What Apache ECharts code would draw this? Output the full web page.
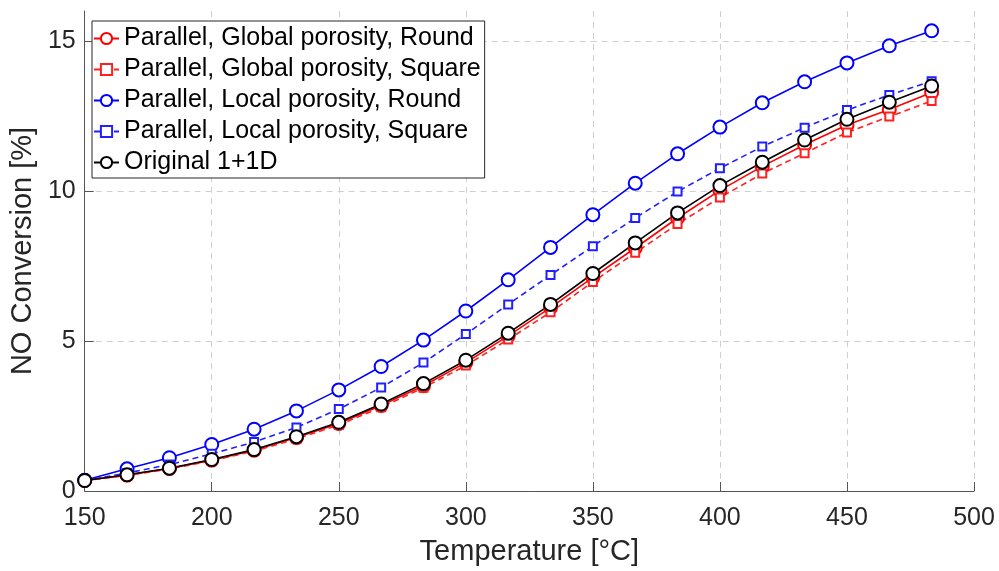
<!DOCTYPE html>
<html>
<head>
<meta charset="utf-8">
<script src="https://cdn.jsdelivr.net/npm/echarts@6/dist/echarts.min.js"></script>
<style>
html,body{margin:0;padding:0;background:#fff;}
#chart{width:999px;height:571px;}
</style>
</head>
<body>
<div id="chart"></div>
<script>
var temperature = [150,166.67,183.33,200,216.67,233.33,250,266.67,283.33,300,316.67,333.33,350,366.67,383.33,400,416.67,433.33,450,466.67,483.33];
var globalRound  = [0.35,0.53,0.75,1.03,1.36,1.78,2.25,2.85,3.51,4.28,5.17,6.11,7.12,8.10,9.10,10.02,10.82,11.54,12.20,12.72,13.28];
var globalSquare = [0.34,0.52,0.73,1.01,1.33,1.74,2.20,2.79,3.44,4.18,5.05,5.96,6.97,7.94,8.90,9.78,10.58,11.26,11.95,12.48,13.00];
var localRound   = [0.36,0.74,1.11,1.55,2.06,2.67,3.37,4.15,5.03,6.00,7.04,8.12,9.21,10.26,11.24,12.13,12.94,13.64,14.27,14.84,15.34];
var localSquare  = [0.35,0.60,0.88,1.24,1.63,2.12,2.73,3.45,4.28,5.23,6.22,7.20,8.16,9.10,9.98,10.76,11.48,12.11,12.70,13.20,13.66];
var original     = [0.35,0.54,0.76,1.05,1.38,1.81,2.29,2.90,3.58,4.36,5.26,6.22,7.25,8.27,9.27,10.18,10.96,11.70,12.39,12.96,13.50];
var xTicks = [150,200,250,300,350,400,450,500];
var yTicks = [0,5,10,15];
var seriesNames = ['Parallel, Global porosity, Round','Parallel, Global porosity, Square','Parallel, Local porosity, Round','Parallel, Local porosity, Square','Original 1+1D'];

function pairs(ys){ return temperature.map(function(t,i){ return [t, ys[i]]; }); }

var FONT = '"Liberation Sans", Arial, sans-serif';
var TXT = '#262626';

function mk(name, data, color, dashed, square){
  return {
    name: name, type: 'line', data: pairs(data),
    symbol: square ? 'emptyRect' : 'emptyCircle',
    symbolSize: square ? 8 : 13,
    showAllSymbol: true,
    lineStyle: { color: color, width: 1.6, type: dashed ? [6,4] : 'solid' },
    itemStyle: { color: color, borderWidth: 1.3 },
    emphasis: { disabled: true },
    animation: false
  };
}

var chart = echarts.init(document.getElementById('chart'), null, {renderer:'canvas'});
chart.setOption({
  animation: false,
  backgroundColor: '#fff',
  grid: { left: 82, right: 25, top: 11, bottom: 79 },
  xAxis: {
    type: 'value', min: 150, max: 500, interval: 50,
    name: 'Temperature [°C]', nameLocation: 'middle', nameGap: 46,
    nameTextStyle: { fontFamily: FONT, fontSize: 29, color: TXT },
    axisLine: { show: true, onZero: false, lineStyle: { color: '#555', width: 1 } },
    axisTick: { show: true, inside: true, length: 9, lineStyle: { color: '#555' } },
    axisLabel: { fontFamily: FONT, fontSize: 25, color: TXT, margin: 15, customValues: xTicks },
    splitLine: { show: true, lineStyle: { color: '#cfcfcf', type: [6,5], width: 1 } }
  },
  yAxis: {
    type: 'value', min: 0, max: 16, interval: 5,
    name: 'NO Conversion [%]', nameLocation: 'middle', nameGap: 44,
    nameTextStyle: { fontFamily: FONT, fontSize: 29, color: TXT },
    axisLine: { show: true, onZero: false, lineStyle: { color: '#555', width: 1 } },
    axisTick: { show: true, inside: true, length: 9, lineStyle: { color: '#555' }, customValues: yTicks },
    axisLabel: { fontFamily: FONT, fontSize: 25, color: TXT, margin: 9, customValues: yTicks },
    splitLine: { show: true, lineStyle: { color: '#cfcfcf', type: [6,5], width: 1 } }
  },
  legend: {
    orient: 'vertical', left: 92, top: 21,
    data: seriesNames,
    itemWidth: 25, itemHeight: 14, itemGap: 6,
    padding: [5, 4, 3, 1],
    borderColor: '#262626', borderWidth: 1, backgroundColor: '#fff',
    textStyle: { fontFamily: FONT, fontSize: 25, color: '#000', lineHeight: 25 },
    selectedMode: false
  },
  series: [
    mk(seriesNames[0], globalRound, '#ff0000', false, false),
    mk(seriesNames[1], globalSquare, '#ff2020', true, true),
    mk(seriesNames[2], localRound, '#0000ff', false, false),
    mk(seriesNames[3], localSquare, '#2020ff', true, true),
    mk(seriesNames[4], original, '#000000', false, false)
  ]
});
</script>
</body>
</html>
